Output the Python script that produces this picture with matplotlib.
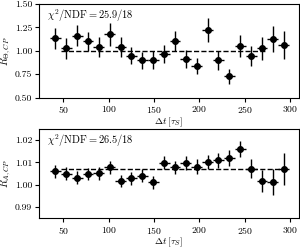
import matplotlib
matplotlib.use('Agg')
import matplotlib.pyplot as plt
import numpy as np

plt.rcParams['font.family'] = 'serif'
plt.rcParams['font.serif'] = ['cmr10']
plt.rcParams['mathtext.fontset'] = 'cm'
plt.rcParams['axes.formatter.use_mathtext'] = True
plt.rcParams['font.size'] = 7

# bin centres in units of tau_S, bin half-width 6
dt = np.array([41, 53, 65, 77, 89, 101, 113, 125, 137, 149, 161,
               173, 185, 197, 209, 221, 233, 245, 257, 269, 281, 293])
dt_err = 6

r_theta = np.array([1.133, 1.025, 1.162, 1.100, 1.040, 1.176, 1.040, 0.946,
                    0.896, 0.903, 0.964, 1.104, 0.910, 0.838, 1.219, 0.896,
                    0.727, 1.050, 0.946, 1.025, 1.122, 1.065])
r_theta_err = np.array([0.115, 0.110, 0.115, 0.100, 0.105, 0.120, 0.110, 0.090,
                        0.095, 0.095, 0.100, 0.110, 0.095, 0.085, 0.130, 0.100,
                        0.080, 0.120, 0.110, 0.120, 0.140, 0.150])
fit_theta = 1.0
fit_theta_range = (47, 275)
chi2_theta = r'$\chi^2/\mathrm{NDF} = 25.9/18$'

r_a = np.array([1.0059, 1.0050, 1.0032, 1.0046, 1.0052, 1.0078, 1.0017, 1.0029,
                1.0040, 1.0010, 1.0099, 1.0078, 1.0096, 1.0080, 1.0100, 1.0109,
                1.0120, 1.0159, 1.0072, 1.0017, 1.0011, 1.0069])
r_a_err = np.array([0.0030, 0.0027, 0.0027, 0.0027, 0.0029, 0.0030, 0.0027, 0.0029,
                    0.0030, 0.0030, 0.0029, 0.0029, 0.0032, 0.0034, 0.0032, 0.0035,
                    0.0036, 0.0036, 0.0044, 0.0050, 0.0058, 0.0072])
fit_a = 1.0069
fit_a_range = (47, 299)
chi2_a = r'$\chi^2/\mathrm{NDF} = 26.5/18$'

fig = plt.figure(figsize=(3.0, 2.5), dpi=100)
ax1 = fig.add_axes([0.13, 0.61, 0.867, 0.374])
ax2 = fig.add_axes([0.13, 0.128, 0.867, 0.356])

panels = [
    (ax1, r_theta, r_theta_err, fit_theta, fit_theta_range, chi2_theta,
     r'$R_{\Theta,CP}$', (0.5, 1.5), [0.5, 0.75, 1.0, 1.25, 1.5], '%.2f'),
    (ax2, r_a, r_a_err, fit_a, fit_a_range, chi2_a,
     r'$R_{A,CP}$', (0.985, 1.025), [0.99, 1.00, 1.01, 1.02], '%.2f'),
]

for ax, y, yerr, fit, frange, chi2, ylab, ylim, yticks, fmt in panels:
    ax.errorbar(dt, y, yerr=yerr, xerr=dt_err, fmt='o', color='black',
                markersize=4, elinewidth=1.0, capsize=0, zorder=3)
    ax.plot(frange, [fit, fit], 'k--', linewidth=1.0, zorder=2)
    ax.text(0.03, 0.87, chi2, transform=ax.transAxes, ha='left', va='center',
            fontsize=7.5)
    ax.set_xlim(23, 310)
    ax.set_ylim(ylim)
    ax.set_yticks(yticks)
    ax.yaxis.set_major_formatter(matplotlib.ticker.FormatStrFormatter(fmt))
    ax.set_xticks([50, 100, 150, 200, 250, 300])
    ax.set_ylabel(ylab, fontsize=7.5)
    ax.yaxis.set_label_coords(-0.1, 0.5)
    ax.set_xlabel(r'$\Delta t\;[\tau_S]$', fontsize=7, labelpad=0)
    ax.tick_params(labelsize=7, length=3, pad=2)

fig.savefig('out.png', dpi=100)
